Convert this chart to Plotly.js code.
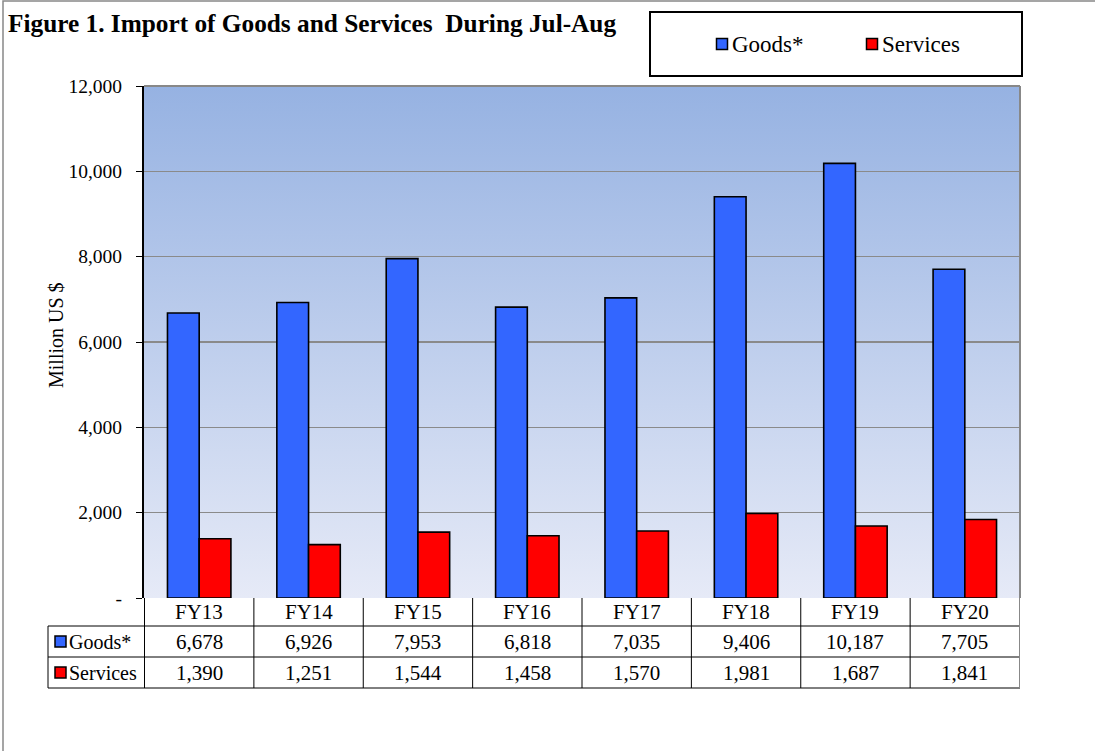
<!DOCTYPE html>
<html>
<head>
<meta charset="utf-8">
<script src="https://cdn.plot.ly/plotly-3.0.1.min.js"></script>
<style>html,body{margin:0;padding:0;background:#fff}#chart{width:1095px;height:751px}</style>
</head>
<body>
<div id="chart"></div>
<script>
const categories = ["FY13","FY14","FY15","FY16","FY17","FY18","FY19","FY20"];
const goods = [6678, 6926, 7953, 6818, 7035, 9406, 10187, 7705];
const services = [1390, 1251, 1544, 1458, 1570, 1981, 1687, 1841];
const seriesNames = ["Goods*", "Services"];
const seriesColors = ["#3366ff", "#ff0000"];
const yTickVals = [0, 2000, 4000, 6000, 8000, 10000, 12000];
const yTickText = ["-", "2,000", "4,000", "6,000", "8,000", "10,000", "12,000"];
const titleText = "Figure 1. Import of Goods and Services  During Jul-Aug";
const yTitle = "Million US $";

const FONT = "'Liberation Serif', 'Times New Roman', serif";
const fmt = v => v.toLocaleString("en-US");

const traces = [goods, services].map((vals, i) => ({
  type: "bar",
  name: seriesNames[i],
  x: categories,
  y: vals,
  marker: {color: seriesColors[i], line: {color: "#000", width: 1.6}},
  hoverinfo: "skip"
}));

const PT = 86, PB = 598, PH = 512, PL = 144, PW = 876;
const py = p => (PB - p) / PH;
const px = p => (p - PL) / PW;

const shapes = [];
const annotations = [];
const TF = {family: FONT, size: 21, color: "#000"};

const rowLines = [626, 657, 688];
rowLines.forEach(r => shapes.push({type: "line", xref: "paper", yref: "paper", x0: px(48), x1: 1, y0: py(r), y1: py(r), line: {color: "#000", width: 1}}));
shapes.push({type: "line", xref: "paper", yref: "paper", x0: px(48), x1: px(48), y0: py(626), y1: py(688), line: {color: "#000", width: 1}});
for (let i = 0; i <= categories.length; i++) {
  shapes.push({type: "line", xref: "x", yref: "paper", x0: i - 0.5, x1: i - 0.5, y0: 0, y1: py(688), line: {color: i === categories.length ? "#888" : "#000", width: 1}});
}
const rowCenters = [612, 641.5, 672.5];
categories.forEach((c, i) => {
  annotations.push({xref: "x", yref: "paper", x: c, y: py(rowCenters[0]), text: c, showarrow: false, font: TF, yanchor: "middle"});
  annotations.push({xref: "x", yref: "paper", x: c, y: py(rowCenters[1]), text: fmt(goods[i]), showarrow: false, font: TF, yanchor: "middle"});
  annotations.push({xref: "x", yref: "paper", x: c, y: py(rowCenters[2]), text: fmt(services[i]), showarrow: false, font: TF, yanchor: "middle"});
});
seriesNames.forEach((n, i) => {
  const cy = rowCenters[i + 1];
  shapes.push({type: "rect", xref: "paper", yref: "paper", x0: px(55), x1: px(66), y0: py(cy + 5.5), y1: py(cy - 5.5), fillcolor: seriesColors[i], line: {color: "#000", width: 1.5}});
  annotations.push({xref: "paper", yref: "paper", x: px(67), y: py(cy), text: n, showarrow: false, xanchor: "left", yanchor: "middle", font: {family: FONT, size: 20, color: "#000"}});
});

shapes.push({type: "rect", xref: "paper", yref: "paper", x0: px(650), x1: px(1022), y0: py(76), y1: py(12), fillcolor: "#fff", line: {color: "#000", width: 2}});
const legX = [722, 872];
seriesNames.forEach((n, i) => {
  shapes.push({type: "rect", xref: "paper", yref: "paper", x0: px(legX[i] - 5.5), x1: px(legX[i] + 5.5), y0: py(49.5), y1: py(38.5), fillcolor: seriesColors[i], line: {color: "#000", width: 1.5}});
  annotations.push({xref: "paper", yref: "paper", x: px(legX[i] + 8), y: py(44), text: n, showarrow: false, xanchor: "left", yanchor: "middle", font: {family: FONT, size: 23, color: "#000"}});
});

shapes.push({type: "rect", xref: "paper", yref: "paper", x0: px(3), x1: px(1200), y0: py(800), y1: py(1), line: {color: "#888", width: 1.5}, fillcolor: "rgba(0,0,0,0)"});

shapes.push({type: "line", xref: "paper", yref: "paper", x0: 0, x1: 1, y0: 1, y1: 1, line: {color: "#888", width: 2}});
shapes.push({type: "line", xref: "paper", yref: "paper", x0: 1, x1: 1, y0: 0, y1: 1, line: {color: "#888", width: 2}});

annotations.push({xref: "paper", yref: "paper", x: px(43), y: py(335), text: yTitle, textangle: -90, showarrow: false, font: {family: FONT, size: 20, color: "#000"}});

const grad = 'data:image/svg+xml;utf8,' + encodeURIComponent(
  '<svg xmlns="http://www.w3.org/2000/svg" width="100" height="100" preserveAspectRatio="none"><defs><linearGradient id="g" x1="0" y1="0" x2="0" y2="1"><stop offset="0" stop-color="#96b2e2"/><stop offset="1" stop-color="#e6eaf7"/></linearGradient></defs><rect width="100" height="100" fill="url(#g)"/></svg>');

const layout = {
  width: 1095, height: 751,
  margin: {l: PL, r: 1095 - PL - PW, t: PT, b: 751 - PB},
  paper_bgcolor: "#fff",
  plot_bgcolor: "rgba(0,0,0,0)",
  showlegend: false,
  barmode: "group",
  bargap: 0.42,
  bargroupgap: 0,
  title: {text: "<b>" + titleText + "</b>", x: 8 / 1095, xanchor: "left", xref: "container", y: 1 - 23 / 751, yanchor: "middle", yref: "container", font: {family: FONT, size: 25.3, color: "#000"}},
  xaxis: {showticklabels: false, ticks: "", showgrid: false, zeroline: false, showline: false, fixedrange: true},
  yaxis: {
    range: [0, 12000], tickvals: yTickVals, ticktext: yTickText,
    ticks: "outside", ticklen: 6, tickcolor: "#000", tickwidth: 1,
    showline: true, linecolor: "#000", linewidth: 2,
    showgrid: true, gridcolor: "#8a8a8a", gridwidth: 1.5,
    zeroline: false, ticklabelstandoff: 10,
    tickfont: {family: FONT, size: 19.5, color: "#000"}
  },
  images: [{source: grad, xref: "paper", yref: "paper", x: 0, y: 1, sizex: 1, sizey: 1, sizing: "stretch", xanchor: "left", yanchor: "top", layer: "below"}],
  shapes: shapes,
  annotations: annotations
};

Plotly.newPlot("chart", traces, layout, {displayModeBar: false, staticPlot: true});
</script>
</body>
</html>
